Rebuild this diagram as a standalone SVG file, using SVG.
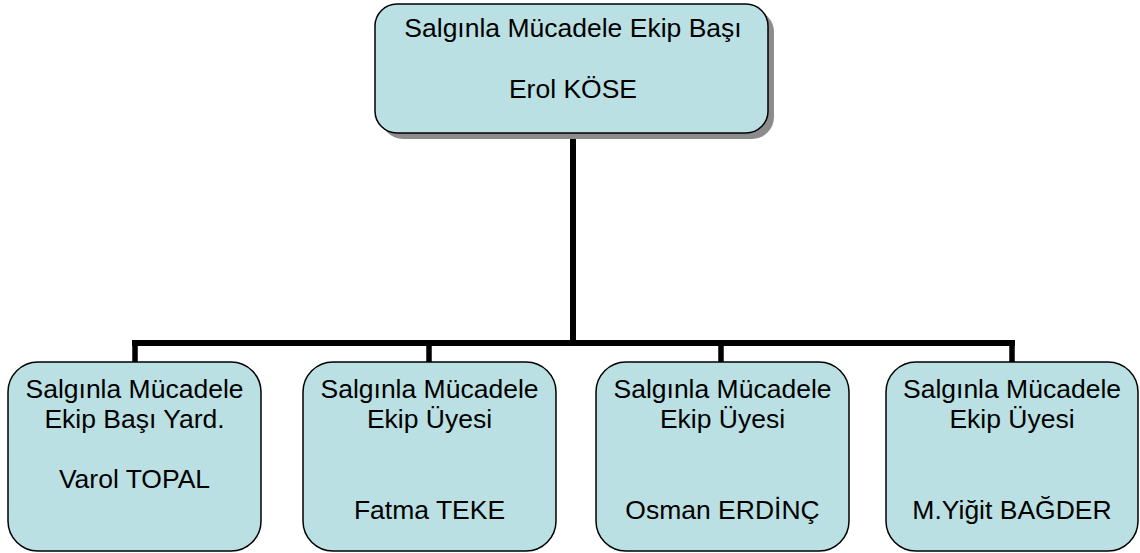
<svg xmlns="http://www.w3.org/2000/svg" width="1140" height="553" viewBox="0 0 1140 553">
<style>
.box{fill:#BBE0E3;stroke:#000;stroke-width:1.5}
.shadow{fill:#8c8c8c}
.t{font-family:"Liberation Sans",Arial,sans-serif;font-size:26.5px;fill:#000;text-anchor:middle}
.c{fill:none;stroke:#000;stroke-width:6}
.d{fill:none;stroke:#000;stroke-width:5.5}
</style>
<rect width="1140" height="553" fill="#fff"/>
<g id="connectors">
<line class="c" x1="573" y1="133" x2="573" y2="343"/>
<line class="c" x1="132" y1="343" x2="1015" y2="343"/>
<line class="d" x1="135" y1="343" x2="135" y2="362"/>
<line class="d" x1="429" y1="343" x2="429" y2="362"/>
<line class="d" x1="721" y1="343" x2="721" y2="362"/>
<line class="d" x1="1012" y1="343" x2="1012" y2="362"/>
</g>
<g id="head">
<rect class="shadow" x="381" y="10" width="393" height="129" rx="22"/>
<rect class="box" x="375" y="4" width="393" height="129" rx="22"/>
<text class="t" x="573" y="37">Salgınla Mücadele Ekip Başı</text>
<text class="t" x="573" y="98">Erol KÖSE</text>
</g>
<g id="assistant">
<rect class="box" x="8" y="362" width="253" height="189" rx="30"/>
<text class="t" x="134.5" y="398">Salgınla Mücadele</text>
<text class="t" x="134.5" y="428">Ekip Başı Yard.</text>
<text class="t" x="134.5" y="488">Varol TOPAL</text>
</g>
<g id="member1">
<rect class="box" x="303" y="362" width="253" height="189" rx="30"/>
<text class="t" x="429.5" y="398">Salgınla Mücadele</text>
<text class="t" x="429.5" y="428">Ekip Üyesi</text>
<text class="t" x="429.5" y="519">Fatma TEKE</text>
</g>
<g id="member2">
<rect class="box" x="596" y="362" width="253" height="189" rx="30"/>
<text class="t" x="722.5" y="398">Salgınla Mücadele</text>
<text class="t" x="722.5" y="428">Ekip Üyesi</text>
<text class="t" x="722.5" y="519">Osman ERDİNÇ</text>
</g>
<g id="member3">
<rect class="box" x="886" y="362" width="252" height="189" rx="30"/>
<text class="t" x="1012" y="398">Salgınla Mücadele</text>
<text class="t" x="1012" y="428">Ekip Üyesi</text>
<text class="t" x="1012" y="519">M.Yiğit BAĞDER</text>
</g>
</svg>
